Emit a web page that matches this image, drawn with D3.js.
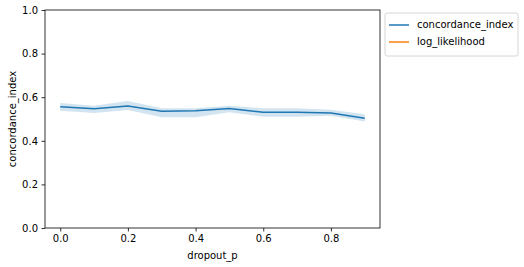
<!DOCTYPE html>
<html>
<head>
<meta charset="utf-8">
<script src="https://cdn.jsdelivr.net/npm/d3@7"></script>
<style>
  body { margin: 0; background: #fff; }
  text { font-family: "DejaVu Sans", sans-serif; }
</style>
</head>
<body>
<svg id="chart" width="524" height="267"></svg>
<script>
const dropout = [0.0, 0.1, 0.2, 0.3, 0.4, 0.5, 0.6, 0.7, 0.8, 0.9];
const concordance = [0.556, 0.547, 0.560, 0.536, 0.538, 0.548, 0.531, 0.531, 0.528, 0.503];
const ciLow = [0.538, 0.528, 0.541, 0.508, 0.508, 0.531, 0.510, 0.510, 0.515, 0.488];
const ciHigh = [0.573, 0.561, 0.582, 0.549, 0.549, 0.561, 0.549, 0.549, 0.543, 0.522];
const xTicks = [0.0, 0.2, 0.4, 0.6, 0.8];
const yTicks = [0.0, 0.2, 0.4, 0.6, 0.8, 1.0];
const legendNames = ['concordance_index', 'log_likelihood'];
const legendColors = ['#1f77b4', '#ff7f0e'];

const mLeft = 45, mRight = 380, mTop = 10, mBottom = 228;
const svg = d3.select('#chart');

const x = d3.scaleLinear().domain([-0.045, 0.945]).range([mLeft, mRight]);
const y = d3.scaleLinear().domain([0, 1]).range([mBottom, mTop]);

const rows = dropout.map((d, i) => ({ x: d, y: concordance[i], lo: ciLow[i], hi: ciHigh[i] }));

// confidence band
svg.append('path')
  .datum(rows)
  .attr('fill', '#1f77b4')
  .attr('fill-opacity', 0.2)
  .attr('d', d3.area().x(d => x(d.x)).y0(d => y(d.lo)).y1(d => y(d.hi)));

// mean line
svg.append('path')
  .datum(rows)
  .attr('fill', 'none')
  .attr('stroke', '#1f77b4')
  .attr('stroke-width', 1.5)
  .attr('d', d3.line().x(d => x(d.x)).y(d => y(d.y)));

// axes
const xAxis = d3.axisBottom(x).tickValues(xTicks).tickFormat(d3.format('.1f')).tickSize(3.5).tickPadding(3.5).tickSizeOuter(0);
const yAxis = d3.axisLeft(y).tickValues(yTicks).tickFormat(d3.format('.1f')).tickSize(3.5).tickPadding(3.5).tickSizeOuter(0);

const gx = svg.append('g').attr('transform', `translate(0,${mBottom})`).call(xAxis);
const gy = svg.append('g').attr('transform', `translate(${mLeft},0)`).call(yAxis);
[gx, gy].forEach(g => {
  g.select('.domain').remove();
  g.selectAll('line').attr('stroke', '#000').attr('stroke-width', 0.8);
  g.selectAll('text').attr('fill', '#000').style('font-size', '10px').style('font-family', '"DejaVu Sans", sans-serif');
});

// frame
svg.append('rect')
  .attr('x', mLeft).attr('y', mTop)
  .attr('width', mRight - mLeft).attr('height', mBottom - mTop)
  .attr('fill', 'none').attr('stroke', '#000').attr('stroke-width', 0.8);

// axis labels
svg.append('text')
  .attr('x', (mLeft + mRight) / 2).attr('y', 259)
  .attr('text-anchor', 'middle').style('font-size', '10px')
  .text('dropout_p');
svg.append('text')
  .attr('transform', `translate(16,${(mTop + mBottom) / 2}) rotate(-90)`)
  .attr('text-anchor', 'middle').style('font-size', '10px')
  .text('concordance_index');

// legend
const lg = svg.append('g').attr('transform', 'translate(385,13)');
lg.append('rect')
  .attr('width', 133).attr('height', 43).attr('rx', 2)
  .attr('fill', '#fff').attr('fill-opacity', 0.8)
  .attr('stroke', '#ccc').attr('stroke-width', 0.8);
legendNames.forEach((name, i) => {
  const yy = 12 + i * 17;
  lg.append('line')
    .attr('x1', 4).attr('x2', 24).attr('y1', yy).attr('y2', yy)
    .attr('stroke', legendColors[i]).attr('stroke-width', 1.5);
  lg.append('text')
    .attr('x', 32).attr('y', yy + 3)
    .style('font-size', '10px')
    .text(name);
});
</script>
</body>
</html>
